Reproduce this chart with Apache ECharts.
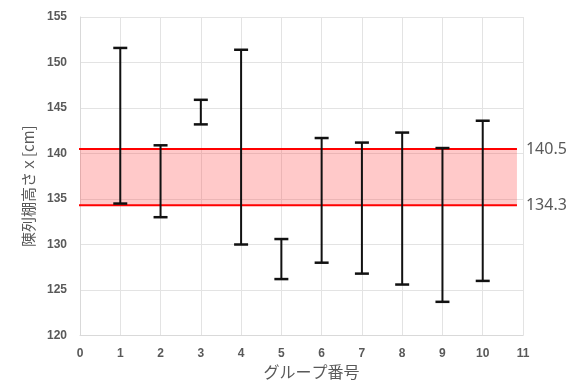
<!DOCTYPE html>
<html>
<head>
<meta charset="utf-8">
<script src="https://cdn.jsdelivr.net/npm/echarts@6/dist/echarts.min.js"></script>
<style>html,body{margin:0;padding:0;background:#fff;}#c{width:582px;height:380px;}</style>
</head>
<body>
<div id="c"></div>
<script>
const groups = [1, 2, 3, 4, 5, 6, 7, 8, 9, 10];
const lows   = [134.5, 133.0, 143.2, 130.0, 126.2, 128.0, 126.8, 125.6, 123.7, 126.0];
const highs  = [151.6, 140.9, 145.9, 151.4, 130.6, 141.7, 141.2, 142.3, 140.6, 143.6];
const bandLow = 134.3;
const bandHigh = 140.5;
const bandX = [-0.12, 10.85];
const yTitle = '陳列棚高さｘ[cm]';
const xTitle = 'グループ番号';

const chart = echarts.init(document.getElementById('c'), null, {renderer: 'canvas'});
const tickFont = {color: '#595959', fontWeight: 'bold', fontSize: 12, fontFamily: 'Liberation Sans'};
const data = groups.map((g, i) => [g, lows[i], highs[i]]);

function refLine(v) {
  return {
    type: 'line',
    clip: false,
    silent: true,
    symbol: 'none',
    data: [[bandX[0], v], [bandX[1], v]],
    lineStyle: {color: '#ff0000', width: 2},
    endLabel: {show: true, formatter: String(v), distance: 9, color: '#595959', fontSize: 16, fontFamily: 'Noto Sans'},
    z: 3
  };
}

chart.setOption({
  animation: false,
  grid: {left: 80, right: 59, top: 17, bottom: 44.5, containLabel: false, outerBoundsMode: 'none'},
  xAxis: {
    type: 'value', min: 0, max: 11, interval: 1,
    name: xTitle, nameLocation: 'middle', nameGap: 26,
    nameTextStyle: {color: '#595959', fontSize: 16, fontFamily: 'Noto Sans CJK JP', padding: [0, 0, 0, 20]},
    axisLine: {show: true, lineStyle: {color: '#d9d9d9', width: 1}},
    axisTick: {show: false},
    axisLabel: Object.assign({margin: 12}, tickFont),
    splitLine: {show: true, lineStyle: {color: '#e3e3e3', width: 1}}
  },
  yAxis: {
    type: 'value', min: 120, max: 155, interval: 5,
    name: yTitle, nameLocation: 'middle', nameGap: 36, nameRotate: 90,
    nameTextStyle: {color: '#595959', fontSize: 15, fontFamily: 'Noto Sans CJK JP', padding: [0, 20, 0, 0]},
    axisLine: {show: true, lineStyle: {color: '#d9d9d9', width: 1}},
    axisTick: {show: false},
    axisLabel: Object.assign({margin: 13}, tickFont),
    splitLine: {show: true, lineStyle: {color: '#e3e3e3', width: 1}}
  },
  series: [{
    type: 'custom',
    clip: false,
    data: data,
    renderItem: function (params, api) {
      const x = api.value(0);
      const lo = api.coord([x, api.value(1)]);
      const hi = api.coord([x, api.value(2)]);
      const hw = 7;
      return {
        type: 'group',
        children: [
          {type: 'line', shape: {x1: lo[0], y1: lo[1], x2: hi[0], y2: hi[1]}, style: {stroke: '#111', lineWidth: 2}},
          {type: 'line', shape: {x1: hi[0] - hw, y1: hi[1], x2: hi[0] + hw, y2: hi[1]}, style: {stroke: '#111', lineWidth: 2.5}},
          {type: 'line', shape: {x1: lo[0] - hw, y1: lo[1], x2: lo[0] + hw, y2: lo[1]}, style: {stroke: '#111', lineWidth: 2.5}}
        ]
      };
    },
    z: 5,
    markArea: {
      silent: true,
      itemStyle: {color: 'rgba(255,60,60,0.28)'},
      data: [[{coord: [bandX[0], bandHigh]}, {coord: [bandX[1], bandLow]}]],
      z: 1
    }
  }, refLine(bandHigh), refLine(bandLow)]
});
</script>
</body>
</html>
